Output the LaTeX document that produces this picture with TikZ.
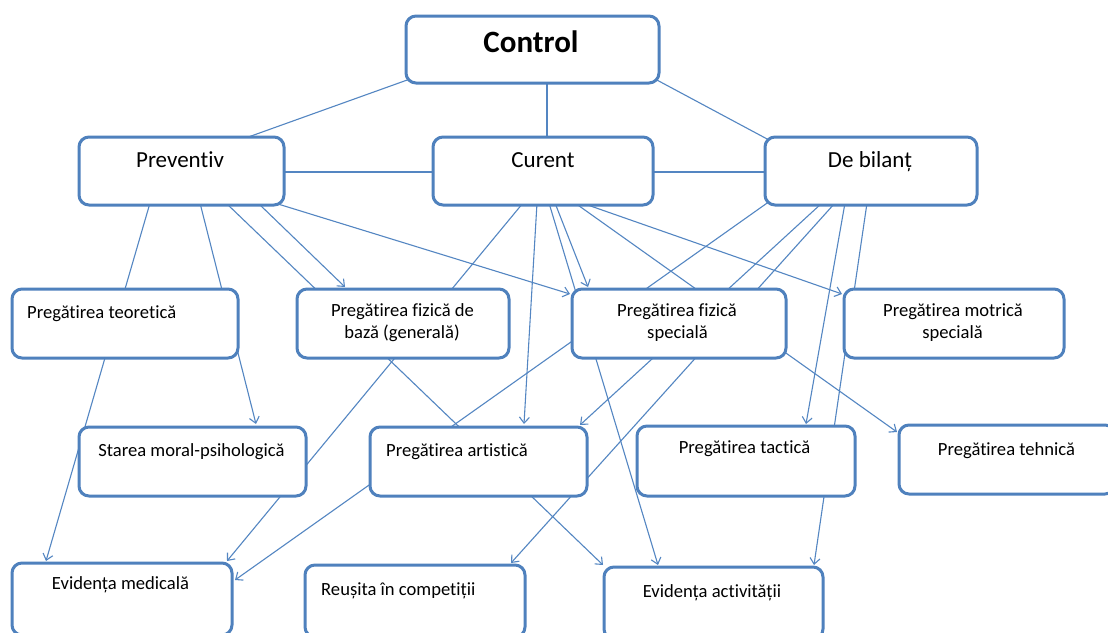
\documentclass[tikz,border=0pt]{standalone}
\usepackage{fontspec}
\setmainfont[Ligatures=NoCommon]{Carlito}
\usetikzlibrary{arrows.meta,calc,backgrounds}
\definecolor{boxblue}{RGB}{79,129,189}
\definecolor{lineblue}{RGB}{84,134,194}
\begin{document}
\begin{tikzpicture}[x=1pt,y=-1pt,
  box/.style={draw=boxblue, line width=3pt, rounded corners=10pt, fill=white, inner sep=0pt, outer sep=0pt},
  lbl/.style={font=\fontsize{18.6}{22}\selectfont, inner sep=0pt, text=black},
  mid/.style={font=\fontsize{23}{27}\selectfont, inner sep=0pt, text=black},
  conn/.style={draw=lineblue, line width=1.1pt},
  arr/.style={conn, -{Straight Barb[length=6pt,width=10pt]}}]
\useasboundingbox (0,0) rectangle (1108,632);
\clip (0,0) rectangle (1108,632);

% boxes
\node[box, minimum width=253pt, minimum height=67pt] (ctrl) at (532.5,49.5) {};
\node[box, minimum width=205pt, minimum height=68pt] (prev) at (181.5,171) {};
\node[box, minimum width=220pt, minimum height=68pt] (cur) at (543,171) {};
\node[box, minimum width=212pt, minimum height=68pt] (bil) at (871,171) {};
\node[box, minimum width=226pt, minimum height=69pt] (teor) at (125,323.5) {};
\node[box, minimum width=212pt, minimum height=69pt] (baza) at (403,323.5) {};
\node[box, minimum width=214pt, minimum height=69pt] (spec) at (679,323.5) {};
\node[box, minimum width=220pt, minimum height=69pt] (motr) at (954,323.5) {};
\node[box, minimum width=227pt, minimum height=69pt] (star) at (192.5,461.5) {};
\node[box, minimum width=217pt, minimum height=69pt] (art) at (478.5,461.5) {};
\node[box, minimum width=218pt, minimum height=70pt] (tact) at (746,461) {};
\node[box, minimum width=216pt, minimum height=69pt] (tehn) at (1007,459.5) {};
\node[box, minimum width=220pt, minimum height=72pt] (med) at (122,599) {};
\node[box, minimum width=220pt, minimum height=72pt] (reus) at (415,601) {};
\node[box, minimum width=219pt, minimum height=72pt] (act) at (713.5,603) {};

% texts
\node[inner sep=0pt, anchor=base, font=\fontsize{31}{36}\selectfont\bfseries] (ctrlt) at (531,52) {Control};
\node[mid, anchor=base] (prevt) at (180,167) {Preventiv};
\node[mid, anchor=base] (curt) at (543,167) {Curent};
\node[mid, anchor=base] (bilt) at (870,167) {De bilanț};
\node[lbl, anchor=base west] (teort) at (27,318) {Pregătirea teoretică};
\node[lbl, anchor=base] (bazat1) at (402.5,316) {Pregătirea fizică de};
\node[lbl, anchor=base] (bazat2) at (402,338) {bază (generală)};
\node[lbl, anchor=base] (spect1) at (677,316) {Pregătirea fizică};
\node[lbl, anchor=base] (spect2) at (677.5,338) {specială};
\node[lbl, anchor=base] (motrt1) at (953,316) {Pregătirea motrică};
\node[lbl, anchor=base] (motrt2) at (952.5,338) {specială};
\node[lbl, anchor=base] (start) at (191.5,456) {Starea moral-psihologică};
\node[lbl, anchor=base west] (artt) at (386,456) {Pregătirea artistică};
\node[lbl, anchor=base] (tactt) at (744.5,453) {Pregătirea tactică};
\node[lbl, anchor=base] (tehnt) at (1006.5,455) {Pregătirea tehnică};
\node[lbl, anchor=base] (medt) at (120.5,589) {Evidența medicală};
\node[lbl, anchor=base west] (reust) at (321,595) {Reușita în competiții};
\node[lbl, anchor=base] (actt) at (712,597) {Evidența activității};

\begin{pgfonlayer}{background}
\fill[white] (0,0) rectangle (1108,632);
% top level
\draw[conn] ($(ctrl.south west)+(4,-4)$) -- ($(prev.north west)+(161,3)$);
\draw[conn] ($(ctrl.south west)+(141,-3)$) -- ($(cur.north west)+(114,3)$);
\draw[conn] ($(ctrl.south east)+(-4,-4)$) -- ($(bil.north west)+(4,3)$);
\draw[conn] ($(prev.east)+(0,1)$) -- ($(cur.west)+(0,1)$);
\draw[conn] ($(cur.east)+(0,1)$) -- ($(bil.west)+(0,1)$);
% from Preventiv
\draw[arr] ($(prev.south west)+(71,-2)$) -- ($(med.north west)+(34,-2)$);
\draw[arr] ($(prev.south west)+(121,-2)$) -- ($(star.north west)+(177,-3)$);
\draw[arr] ($(prev.south west)+(147,-2)$) -- ($(act.north west)+(-1,-2)$);
\draw[arr] ($(prev.south west)+(179,-2)$) -- ($(baza.north west)+(48,-2)$);
\draw[arr] ($(prev.south west)+(199,-1)$) -- ($(spec.north west)+(-2,5)$);
% from Curent
\draw[arr] ($(cur.south west)+(90,-2)$) -- ($(med.north east)+(-5,-2)$);
\draw[arr] ($(cur.south west)+(104,-2)$) -- ($(art.north west)+(154,-3)$);
\draw[arr] ($(cur.south west)+(116,-2)$) -- ($(act.north west)+(54,-2)$);
\draw[arr] ($(cur.south west)+(122,-2)$) -- ($(spec.north west)+(16,-2)$);
\draw[arr] ($(cur.south west)+(142,-2)$) -- ($(tehn.north west)+(-2,7)$);
\draw[arr] ($(cur.south west)+(149,-2)$) -- ($(motr.north west)+(-2,5)$);
% from De bilant
\draw[arr] ($(bil.south west)+(5,-4)$) -- ($(med.north east)+(3,17)$);
\draw[arr] ($(bil.south west)+(57,-2)$) -- ($(art.north east)+(-7,-2)$);
\draw[arr] ($(bil.south west)+(70,-2)$) -- ($(reus.north east)+(-14,-2)$);
\draw[arr] ($(bil.south west)+(80,-2)$) -- ($(tact.north east)+(-49,-2)$);
\draw[arr] ($(bil.south west)+(102,-2)$) -- ($(act.north east)+(-9,-2)$);
\end{pgfonlayer}
\end{tikzpicture}
\end{document}
